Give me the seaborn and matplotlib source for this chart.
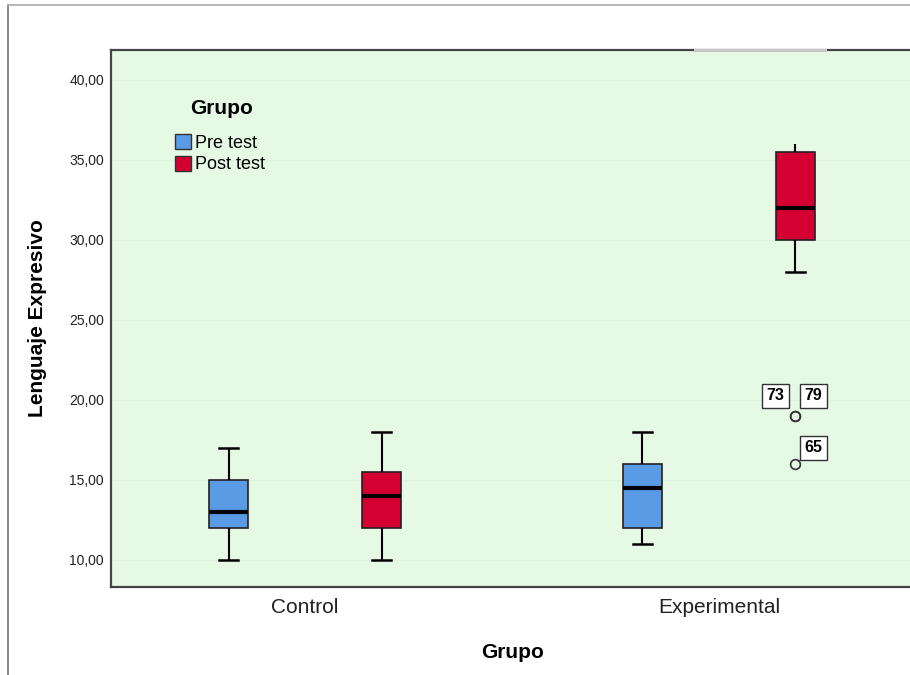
import pandas as pd
import seaborn as sns
import matplotlib.pyplot as plt
from matplotlib.patches import Patch
from matplotlib.lines import Line2D
from matplotlib.ticker import FixedLocator, FuncFormatter

# Groups and measurement moments
grupos = ["Control", "Experimental"]
momentos = ["Pre test", "Post test"]

# Expressive language scores per group and moment
control_pre = [10, 12, 13, 15, 17]
control_post = [10, 12, 14, 15.5, 18]
experimental_pre = [11, 12, 14.5, 16, 18]
experimental_post = [16, 19, 19, 28, 30, 30, 31, 32, 32, 33, 34, 35,
                     35.5, 35.5, 36, 36, 36]

# Case numbers of the outlying scores (experimental post test)
casos_atipicos = ["65", "73", "79"]
valores_atipicos = [16, 19, 19]

yticks = [10, 15, 20, 25, 30, 35, 40]
colores = ["#5A9BE6", "#D50032"]

rows = []
for grupo, momento, valores in [
    ("Control", "Pre test", control_pre),
    ("Control", "Post test", control_post),
    ("Experimental", "Pre test", experimental_pre),
    ("Experimental", "Post test", experimental_post),
]:
    for v in valores:
        rows.append({"Grupo": grupo, "Momento": momento, "Lenguaje": v})
df = pd.DataFrame(rows)

plt.rcParams["font.family"] = ["Liberation Sans", "DejaVu Sans"]

fig = plt.figure(figsize=(9.1, 6.75), dpi=100)
fig.patch.set_facecolor("white")
ax = fig.add_axes([111 / 910, 88 / 675, 802 / 910, 537 / 675])
ax.set_facecolor("#E5F9E5")

sns.boxplot(
    data=df, x="Grupo", y="Lenguaje", hue="Momento",
    order=grupos, hue_order=momentos, palette=colores,
    width=0.74, gap=0.746, saturation=1, legend=False,
    linecolor="#1a1a1a", linewidth=1.2,
    boxprops=dict(edgecolor="#222222", linewidth=1.2),
    medianprops=dict(color="black", linewidth=3),
    whiskerprops=dict(color="black", linewidth=1.5),
    capprops=dict(color="black", linewidth=1.8),
    flierprops=dict(marker="o", markersize=7, markerfacecolor="none",
                    markeredgecolor="#333333", markeredgewidth=1.2),
    ax=ax,
)

# The upper whisker of the experimental post test has no cap
for ln in ax.lines:
    yd = list(ln.get_ydata())
    if len(yd) == 2 and yd[0] == 36 and yd[1] == 36:
        ln.set_visible(False)

ax.set_xlim(-0.469, 1.469)
ax.set_ylim(8.31, 41.875)
ax.yaxis.set_major_locator(FixedLocator(yticks))
ax.yaxis.set_major_formatter(FuncFormatter(lambda v, p: f"{v:.2f}".replace(".", ",")))
ax.tick_params(axis="y", length=0, pad=5, labelsize=10, labelcolor="#222222")
ax.tick_params(axis="x", length=0, pad=8, labelsize=15, labelcolor="#222222")

ax.set_axisbelow(True)
ax.grid(axis="y", color="#DCF3DC", linewidth=1)
ax.grid(axis="x", visible=False)

for side in ["left", "bottom", "top"]:
    ax.spines[side].set_color("#444444")
    ax.spines[side].set_linewidth(1.6)
ax.spines["right"].set_visible(False)
ax.plot([(695 - 305) / 414, (825 - 305) / 414], [1, 1], color="#C8C8C8", lw=2.2,
        transform=ax.get_xaxis_transform(), clip_on=False, zorder=5)

ax.set_xlabel("Grupo", fontsize=15, fontweight="bold")
ax.set_ylabel("Lenguaje Expresivo", fontsize=15, fontweight="bold")
ax.xaxis.label.set_verticalalignment("center")
ax.yaxis.label.set_verticalalignment("center")
ax.xaxis.set_label_coords((513 - 111) / 802, (587 - 652) / 537)
ax.yaxis.set_label_coords((38 - 111) / 802, 0.5)

# Outlier case labels; only the lower one needs a leader line
offsets = [(18, 16), (-20, 20), (18, 20)]
leaders = [True, False, False]
for caso, valor, (dx, dy), lead in zip(casos_atipicos, valores_atipicos, offsets, leaders):
    ax.annotate(
        caso, xy=(1 + 0.185, valor), xytext=(dx, dy), textcoords="offset pixels",
        ha="center", va="center", fontsize=11.5, fontweight="bold",
        bbox=dict(boxstyle="square,pad=0.3", facecolor="white",
                  edgecolor="#333333", linewidth=1),
        arrowprops=(dict(arrowstyle="-", color="#333333", lw=1, shrinkA=0, shrinkB=3)
                    if lead else None),
        zorder=6,
    )

handles = [Patch(facecolor=c, edgecolor="#333333", linewidth=1) for c in colores]
leg = ax.legend(
    handles, momentos, loc="upper left",
    bbox_to_anchor=(175 / 910, 1 - 134 / 675), bbox_transform=fig.transFigure,
    frameon=False, fontsize=13, handlelength=0.9, handleheight=0.9,
    handletextpad=0.2, labelspacing=0.22, borderpad=0, borderaxespad=0,
)
fig.text(222 / 910, 1 - 108 / 675, "Grupo", ha="center", va="center",
         fontsize=15, fontweight="bold")

# Outer frame of the output
fig.add_artist(Line2D([8 / 910, 8 / 910], [0, 1 - 5 / 675], transform=fig.transFigure,
                      color="#777777", lw=1.2))
fig.add_artist(Line2D([8 / 910, 1], [1 - 5 / 675, 1 - 5 / 675], transform=fig.transFigure,
                      color="#AAAAAA", lw=1.2))

fig.savefig("out.png", dpi=100, facecolor="white")
